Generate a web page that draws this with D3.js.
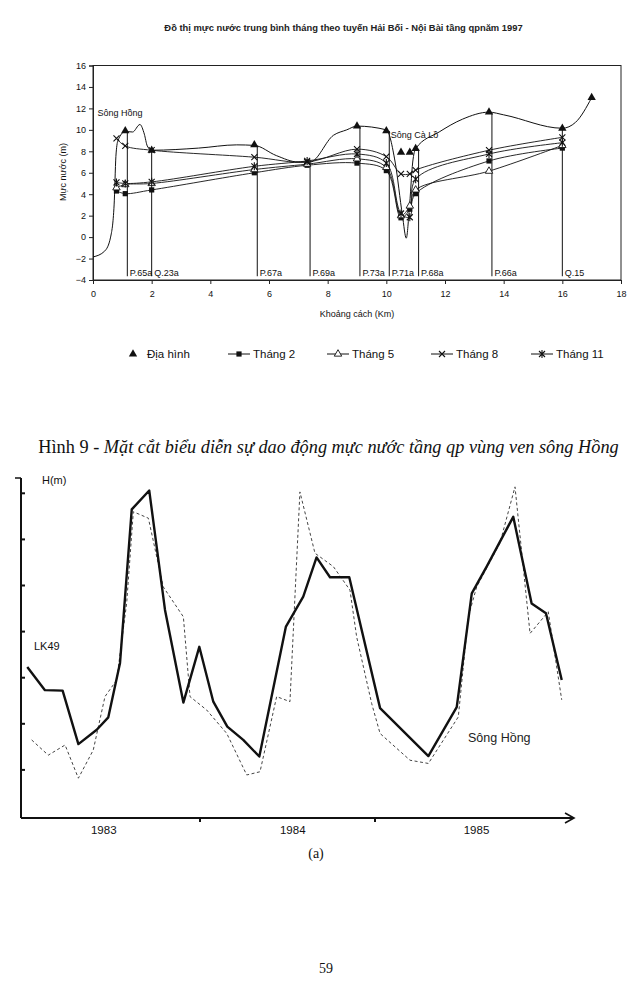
<!DOCTYPE html>
<html><head><meta charset="utf-8">
<script src="https://cdn.jsdelivr.net/npm/d3@7"></script>
<style>body{margin:0;background:#fff}svg{display:block}</style>
</head><body>
<svg id="c" width="642" height="992"></svg>
<script>
// ---------- Top chart data ----------
const chartTitle = "Đồ thị mực nước trung bình tháng theo tuyến Hải Bối - Nội Bài tầng qpnăm 1997";
const pointKm = [0.8, 1.1, 2.0, 5.5, 7.3, 9.0, 10.0, 10.5, 10.8, 11.0, 13.5, 16.0];
const thang2  = [4.3, 4.05, 4.4, 6.0, 6.7, 6.9, 6.2, 1.8, 2.6, 4.05, 7.1, 8.3];
const thang5  = [4.6, 4.9, 5.0, 6.3, 6.8, 7.3, 6.5, 2.0, 2.9, 4.4, 6.15, 8.55];
const thang8  = [9.2, 8.5, 8.1, 7.45, 7.0, 8.2, 7.5, 5.9, 5.9, 6.25, 8.1, 9.3];
const thang11 = [5.1, 5.0, 5.15, 6.6, 7.1, 7.75, 6.9, 2.2, 1.85, 5.4, 7.75, 8.8];
const seriesNames = ["Tháng 2", "Tháng 5", "Tháng 8", "Tháng 11"];
const terrainName = "Địa hình";
const terrainKm = [0, 0.4, 0.6, 0.72, 0.78, 0.85, 1.1, 1.35, 1.6, 1.75, 1.85, 2.0, 3.6, 4.9, 5.5, 6.25, 7.0, 7.4, 8.2, 8.65, 9.0, 10.0, 10.3, 10.55, 10.68, 10.78, 10.9, 11.0, 11.8, 12.6, 13.5, 14.0, 16.0, 16.45, 17.0];
const terrainH  = [-1.85, -1.3, 0, 3, 7.5, 9.0, 9.85, 9.8, 10.5, 9.6, 8.5, 8.1, 8.3, 8.6, 8.55, 7.6, 7.0, 7.0, 9.5, 10.0, 10.35, 10.0, 7.0, 2.0, -0.1, 2.5, 7.0, 8.25, 9.8, 11.0, 11.65, 11.4, 10.15, 10.7, 13.0];
const terrainMarkKm = [1.1, 2.0, 5.5, 9.0, 10.0, 10.5, 10.8, 11.0, 13.5, 16.0, 17.0];
const terrainMarkH  = [9.9, 8.1, 8.6, 10.35, 9.9, 7.9, 7.9, 8.25, 11.65, 10.15, 13.0];
const wellNames = ["P.65a", "Q.23a", "P.67a", "P.69a", "P.73a", "P.71a", "P.68a", "P.66a", "Q.15"];
const wellKm    = [1.17, 2.0, 5.6, 7.4, 9.1, 10.1, 11.1, 13.6, 16.0];
const wellTop   = [9.8, 8.1, 8.5, 7.0, 10.3, 9.9, 8.2, 11.6, 10.1];
const xTicksTop = [0, 2, 4, 6, 8, 10, 12, 14, 16, 18];
const yTicksTop = [-4, -2, 0, 2, 4, 6, 8, 10, 12, 14, 16];

// ---------- Bottom chart data ----------
const lkTime = [1983.013,1983.114,1983.215,1983.305,1983.41,1983.476,1983.543,1983.61,1983.71,1983.80,1983.905,1983.996,1984.076,1984.156,1984.247,1984.339,1984.491,1984.59,1984.666,1984.743,1984.853,1985.029,1985.305,1985.467,1985.553,1985.638,1985.79,1985.895,1985.977,1986.067];
const lkH    = [3.23,2.73,2.72,1.56,1.87,2.14,3.32,6.65,7.06,4.47,2.46,3.67,2.48,1.94,1.65,1.29,4.11,4.76,5.61,5.18,5.18,2.34,1.30,2.36,4.83,5.41,6.49,4.61,4.40,2.95];
const shTime = [1983.038,1983.133,1983.229,1983.305,1983.39,1983.457,1983.524,1983.581,1983.619,1983.705,1983.79,1983.905,1983.943,1984.038,1984.153,1984.267,1984.343,1984.438,1984.514,1984.571,1984.657,1984.762,1984.857,1984.895,1984.981,1985.029,1985.2,1985.305,1985.476,1985.533,1985.581,1985.714,1985.8,1985.886,1985.99,1986.067];
const shH    = [1.65,1.32,1.54,0.82,1.43,2.59,2.95,4.62,6.60,6.46,4.97,4.32,2.59,2.30,1.79,0.89,0.96,2.59,2.48,7.03,5.70,5.41,4.90,3.89,2.44,1.79,1.21,1.14,2.15,4.32,4.97,5.92,7.14,3.96,4.43,2.52];
const yearTicks = [1984, 1985];
const yearLabels = ["1983", "1984", "1985"];
const yearLabelPos = [1983.45, 1984.53, 1985.58];
const hTicks = [1, 2, 3, 4, 5, 6, 7];

const svg = d3.select("#c");
const sans = "Arial, 'Liberation Sans', sans-serif";
const serif = "'Liberation Serif', 'Times New Roman', serif";

// ================= TOP CHART =================
const xT = d3.scaleLinear().domain([0, 18]).range([93, 621]);
const yT = d3.scaleLinear().domain([-4, 16]).range([280, 65.5]);

svg.append("text").attr("x", 343.5).attr("y", 31).attr("text-anchor", "middle")
  .attr("font-family", sans).attr("font-size", 9.4).attr("font-weight", "bold").attr("fill", "#222")
  .text(chartTitle);

// frame
svg.append("rect").attr("x", xT(0)).attr("y", yT(16)).attr("width", xT(18) - xT(0)).attr("height", yT(-4) - yT(16))
  .attr("fill", "none").attr("stroke", "#222").attr("stroke-width", 1);

const gxT = svg.append("g").attr("transform", `translate(0,${yT(-4)})`)
  .call(d3.axisBottom(xT).tickValues(xTicksTop).tickSize(4).tickPadding(7));
const gyT = svg.append("g").attr("transform", `translate(${xT(0)},0)`)
  .call(d3.axisLeft(yT).tickValues(yTicksTop).tickSize(4).tickPadding(3));
[gxT, gyT].forEach(g => {
  g.select(".domain").attr("stroke", "#222");
  g.selectAll("line").attr("stroke", "#222");
  g.selectAll("text").attr("font-family", sans).attr("font-size", 9).attr("fill", "#111");
});

svg.append("text").attr("transform", "translate(66,172) rotate(-90)").attr("text-anchor", "middle")
  .attr("font-family", sans).attr("font-size", 9).attr("fill", "#111").text("Mực nước (m)");
svg.append("text").attr("x", 357).attr("y", 317).attr("text-anchor", "middle")
  .attr("font-family", sans).attr("font-size", 9).attr("fill", "#111").text("Khoảng cách (Km)");

// terrain profile
const terr = terrainKm.map((k, i) => [k, terrainH[i]]);
svg.append("path").datum(terr)
  .attr("d", d3.line().x(d => xT(d[0])).y(d => yT(d[1])).curve(d3.curveMonotoneX))
  .attr("fill", "none").attr("stroke", "#111").attr("stroke-width", 1);

// wells
wellKm.forEach((k, i) => {
  svg.append("line").attr("x1", xT(k)).attr("x2", xT(k)).attr("y1", yT(wellTop[i])).attr("y2", yT(-3.65))
    .attr("stroke", "#111").attr("stroke-width", 1);
  svg.append("text").attr("x", xT(k) + 2.5).attr("y", yT(-3.35)).attr("dy", "0.35em")
    .attr("font-family", sans).attr("font-size", 9).attr("fill", "#111").text(wellNames[i]);
});

svg.append("text").attr("x", xT(0.15)).attr("y", yT(11.3)).attr("font-family", sans).attr("font-size", 9).attr("fill", "#111").text("Sông Hồng");
svg.append("text").attr("x", xT(10.15)).attr("y", yT(9.2)).attr("font-family", sans).attr("font-size", 9).attr("fill", "#111").text("Sông Cà Lồ");

// series lines
const allSeries = [thang2, thang5, thang8, thang11];
const lineGen = d3.line().x(d => xT(d[0])).y(d => yT(d[1])).curve(d3.curveCatmullRom.alpha(0.5));
allSeries.forEach(vals => {
  svg.append("path").datum(pointKm.map((k, i) => [k, vals[i]]))
    .attr("d", lineGen).attr("fill", "none").attr("stroke", "#111").attr("stroke-width", 0.9);
});

function marker(g, type, cx, cy) {
  if (type === "square") {
    g.append("rect").attr("x", cx - 2.6).attr("y", cy - 2.6).attr("width", 5.2).attr("height", 5.2).attr("fill", "#111");
  } else if (type === "otri") {
    g.append("path").attr("transform", `translate(${cx},${cy})`).attr("d", d3.symbol(d3.symbolTriangle, 24)())
      .attr("fill", "#fff").attr("stroke", "#111").attr("stroke-width", 0.9);
  } else if (type === "x" || type === "star") {
    g.append("path").attr("d", `M${cx-3},${cy-3}L${cx+3},${cy+3}M${cx-3},${cy+3}L${cx+3},${cy-3}` + (type === "star" ? `M${cx},${cy-4}L${cx},${cy+4}` : ""))
      .attr("stroke", "#111").attr("stroke-width", 1.1).attr("fill", "none");
  } else if (type === "ftri") {
    g.append("path").attr("transform", `translate(${cx},${cy})`).attr("d", d3.symbol(d3.symbolTriangle, 30)())
      .attr("fill", "#111");
  }
}
const types = ["square", "otri", "x", "star"];
const mg = svg.append("g");
allSeries.forEach((vals, s) => pointKm.forEach((k, i) => marker(mg, types[s], xT(k), yT(vals[i]))));
terrainMarkKm.forEach((k, i) => marker(mg, "ftri", xT(k), yT(terrainMarkH[i])));

// legend
const lg = svg.append("g");
const legY = 354;
marker(lg, "ftri", 133, legY);
lg.append("text").attr("x", 147).attr("y", legY).attr("dy", "0.35em").attr("font-family", sans).attr("font-size", 11.5).attr("fill", "#111").text(terrainName);
const legX = [228, 327, 431, 531];
seriesNames.forEach((n, s) => {
  lg.append("line").attr("x1", legX[s]).attr("x2", legX[s] + 22).attr("y1", legY).attr("y2", legY).attr("stroke", "#111").attr("stroke-width", 1);
  marker(lg, types[s], legX[s] + 11, legY);
  lg.append("text").attr("x", legX[s] + 25).attr("y", legY).attr("dy", "0.35em").attr("font-family", sans).attr("font-size", 11.5).attr("fill", "#111").text(n);
});

// caption
const cap = svg.append("text").attr("x", 328.5).attr("y", 453).attr("text-anchor", "middle")
  .attr("font-family", serif).attr("font-size", 18.3).attr("fill", "#111");
cap.append("tspan").text("Hình 9 - ");
cap.append("tspan").attr("font-style", "italic").text("Mặt cắt biểu diễn sự dao động mực nước tầng qp vùng ven sông Hồng");

// ================= BOTTOM CHART =================
const xB = d3.scaleLinear().domain([1983, 1986]).range([25, 550]);
const yB = d3.scaleLinear().domain([0, 8]).range([816, 447.2]);
const axX0 = 21, axY0 = 818;

svg.append("line").attr("x1", axX0).attr("x2", axX0).attr("y1", 478).attr("y2", axY0).attr("stroke", "#111").attr("stroke-width", 2);
svg.append("line").attr("x1", 15).attr("x2", axX0).attr("y1", 478).attr("y2", 478).attr("stroke", "#111").attr("stroke-width", 1.5);
hTicks.forEach(h => svg.append("line").attr("x1", axX0).attr("x2", axX0 + 4).attr("y1", yB(h)).attr("y2", yB(h)).attr("stroke", "#111").attr("stroke-width", 2));
svg.append("line").attr("x1", axX0).attr("x2", 573).attr("y1", axY0).attr("y2", axY0).attr("stroke", "#111").attr("stroke-width", 1.8);
svg.append("path").attr("d", `M565,813L574,818L565,823`).attr("fill", "none").attr("stroke", "#111").attr("stroke-width", 1.6);
yearTicks.forEach(t => svg.append("line").attr("x1", xB(t)).attr("x2", xB(t)).attr("y1", axY0).attr("y2", axY0 + 4).attr("stroke", "#111").attr("stroke-width", 2));
yearLabels.forEach((l, i) => svg.append("text").attr("x", xB(yearLabelPos[i])).attr("y", 830).attr("dy", "0.35em").attr("text-anchor", "middle")
  .attr("font-family", sans).attr("font-size", 11.5).attr("fill", "#111").text(l));

svg.append("text").attr("x", 42).attr("y", 480).attr("dy", "0.35em").attr("font-family", sans).attr("font-size", 11).attr("fill", "#111").text("H(m)");
svg.append("text").attr("x", 34).attr("y", 646).attr("dy", "0.35em").attr("font-family", sans).attr("font-size", 11).attr("fill", "#111").text("LK49");
svg.append("text").attr("x", 468).attr("y", 738).attr("dy", "0.35em").attr("font-family", sans).attr("font-size", 12.5).attr("fill", "#222").text("Sông Hồng");

const lineB = d3.line().x(d => xB(d[0])).y(d => yB(d[1]));
svg.append("path").datum(shTime.map((t, i) => [t, shH[i]])).attr("d", lineB)
  .attr("fill", "none").attr("stroke", "#444").attr("stroke-width", 1).attr("stroke-dasharray", "3,2.5");
svg.append("path").datum(lkTime.map((t, i) => [t, lkH[i]])).attr("d", lineB)
  .attr("fill", "none").attr("stroke", "#111").attr("stroke-width", 2.4).attr("stroke-linejoin", "round");

svg.append("text").attr("x", 316).attr("y", 853).attr("dy", "0.35em").attr("text-anchor", "middle")
  .attr("font-family", serif).attr("font-size", 14).attr("fill", "#111").text("(a)");
svg.append("text").attr("x", 326).attr("y", 968).attr("dy", "0.35em").attr("text-anchor", "middle")
  .attr("font-family", serif).attr("font-size", 14).attr("fill", "#111").text("59");
</script>
</body></html>
